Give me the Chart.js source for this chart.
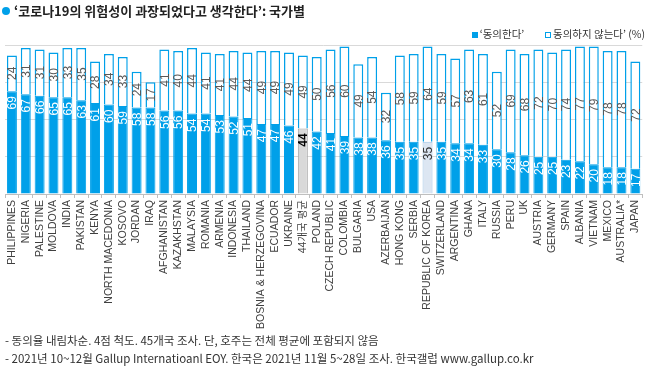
<!DOCTYPE html>
<html>
<head>
<meta charset="utf-8">
<script src="https://cdn.jsdelivr.net/npm/chart.js@4/dist/chart.umd.min.js"></script>
<style>
  body { margin: 0; background: #fff; font-family: "Noto Sans CJK KR", "Liberation Sans", sans-serif; }
  #wrap { position: relative; width: 650px; height: 375px; overflow: hidden; }
  #chart { position: absolute; left: 0; top: 0; }
  .title { position: absolute; left: 14px; top: 1px; font-size: 13px; font-weight: bold; color: #222; }
  .dot { position: absolute; left: 2px; top: 7px; width: 8px; height: 8px; border-radius: 50%; background: #00A0E9; }
  .legend { position: absolute; right: 5px; top: 26px; font-size: 10.5px; color: #333; }
  .legend span.sq { display: inline-block; width: 6px; height: 6px; margin-right: 2px; vertical-align: 0px; box-sizing: border-box; }
  .note { position: absolute; left: 5px; font-size: 11.5px; color: #333; }
</style>
</head>
<body>
<div id="wrap">
  <canvas id="chart" width="650" height="375"></canvas>
  <div class="dot"></div>
  <div class="title">‘코로나19의 위험성이 과장되었다고 생각한다’: 국가별</div>
  <div class="legend">
    <span class="sq" style="background:#00A0E9"></span>‘동의한다’
    <span style="display:inline-block;width:16px"></span>
    <span class="sq" style="border:1px solid #00A0E9"></span>동의하지 않는다’ (%)
  </div>
  <div class="note" style="top:332px">- 동의율 내림차순. 4점 척도. 45개국 조사. 단, 호주는 전체 평균에 포함되지 않음</div>
  <div class="note" style="top:350px">- 2021년 10~12월 Gallup Internatioanl EOY. 한국은 2021년 11월 5~28일 조사. 한국갤럽 www.gallup.co.kr</div>
</div>
<script>
// countries, sorted by agreement
var countries = ["PHILIPPINES", "NIGERIA", "PALESTINE", "MOLDOVA", "INDIA", "PAKISTAN", "KENYA",
    "NORTH MACEDONIA", "KOSOVO", "JORDAN", "IRAQ", "AFGHANISTAN", "KAZAKHSTAN", "MALAYSIA",
    "ROMANIA", "ARMENIA", "INDONESIA", "THAILAND", "BOSNIA & HERZEGOVINA", "ECUADOR", "UKRAINE",
    "44개국 평균", "POLAND", "CZECH REPUBLIC", "COLOMBIA", "BULGARIA", "USA", "AZERBAIJAN",
    "HONG KONG", "SERBIA", "REPUBLIC OF KOREA", "SWITZERLAND", "ARGENTINA", "GHANA", "ITALY",
    "RUSSIA", "PERU", "UK", "AUSTRIA", "GERMANY", "SPAIN", "ALBANIA", "VIETNAM", "MEXICO",
    "AUSTRALIA*", "JAPAN"];

// '동의한다'
var agree = [69, 67, 66, 65, 65, 63, 61, 60, 59, 58, 58, 56, 56, 54, 54, 53, 52, 51, 47, 47, 46,
    44, 42, 41, 39, 38, 38, 36, 35, 35, 35, 35, 34, 34, 33, 30, 28, 26, 25, 25, 23, 22, 20, 18, 18, 17];

// '동의하지 않는다'
var disagree = [24, 31, 31, 30, 33, 35, 28, 34, 33, 24, 17, 41, 40, 44, 41, 41, 44, 44, 49, 49, 49,
    49, 50, 56, 60, 49, 54, 32, 58, 59, 64, 59, 57, 63, 61, 52, 69, 68, 72, 70, 74, 77, 79, 78, 78, 72];

var yTicks = [0, 25, 50, 75, 100];

var BLUE = "#00A0E9";
var avgIdx = countries.indexOf("44개국 평균");
var korIdx = countries.indexOf("REPUBLIC OF KOREA");

var agreeFill = agree.map(function (v, i) {
    if (i === avgIdx) return "#D9D9D9";
    if (i === korIdx) return "#DCE6F2";
    return BLUE;
});
var agreeBorder = agree.map(function (v, i) {
    if (i === avgIdx) return "#A6A6A6";
    if (i === korIdx) return "#9DC3E6";
    return BLUE;
});

// draws the value labels on each segment
var valueLabels = {
    id: "valueLabels",
    afterDatasetsDraw: function (chart) {
        var ctx = chart.ctx;
        chart.data.datasets.forEach(function (ds, d) {
            var meta = chart.getDatasetMeta(d);
            meta.data.forEach(function (bar, i) {
                var p = bar.getProps(["x", "y", "base"], true);
                ctx.save();
                ctx.textBaseline = "middle";
                ctx.font = "12px 'Liberation Sans', Arial, sans-serif";
                if (d === 0) {
                    ctx.translate(p.x, p.y + 5);
                    ctx.rotate(-Math.PI / 2);
                    ctx.textAlign = "right";
                    ctx.fillStyle = "#fff";
                    if (i === avgIdx) {
                        ctx.font = "bold 12px 'Liberation Sans', Arial, sans-serif";
                        ctx.fillStyle = "#000";
                    } else if (i === korIdx) {
                        ctx.fillStyle = "#333";
                    }
                } else {
                    ctx.translate(p.x, (p.y + p.base) / 2);
                    ctx.rotate(-Math.PI / 2);
                    ctx.textAlign = "center";
                    ctx.fillStyle = "#595959";
                }
                ctx.fillText(String(ds.data[i]), 0, 1);
                ctx.restore();
            });
        });
    }
};

new Chart(document.getElementById("chart"), {
    type: "bar",
    data: {
        labels: countries,
        datasets: [
            {
                label: "‘동의한다’",
                data: agree,
                backgroundColor: agreeFill,
                borderColor: agreeBorder,
                borderWidth: 1,
                barPercentage: 0.72,
                categoryPercentage: 1
            },
            {
                label: "동의하지 않는다’",
                data: disagree,
                backgroundColor: "#fff",
                borderColor: BLUE,
                borderWidth: 1.5,
                barPercentage: 0.72,
                categoryPercentage: 1
            }
        ]
    },
    options: {
        responsive: false,
        animation: false,
        layout: { padding: { top: 45, left: 5, right: 6, bottom: 0 } },
        plugins: { legend: { display: false }, tooltip: { enabled: false } },
        scales: {
            x: {
                stacked: true,
                grid: { drawOnChartArea: false, drawTicks: true, tickLength: 4, color: "#BFBFBF" },
                border: { color: "#BFBFBF" },
                ticks: {
                    minRotation: 90, maxRotation: 90, autoSkip: false, padding: 2,
                    color: "#404040",
                    font: { family: "'Liberation Sans', Arial, 'Noto Sans CJK KR', sans-serif", size: 10.5 }
                },
                afterFit: function (s) { s.height = 181; }
            },
            y: {
                stacked: true,
                min: 0, max: 100,
                afterBuildTicks: function (s) { s.ticks = yTicks.map(function (v) { return { value: v }; }); },
                grid: { color: "#D9D9D9", drawTicks: false },
                border: { display: false },
                ticks: { display: false }
            }
        }
    },
    plugins: [valueLabels]
});
</script>
</body>
</html>
